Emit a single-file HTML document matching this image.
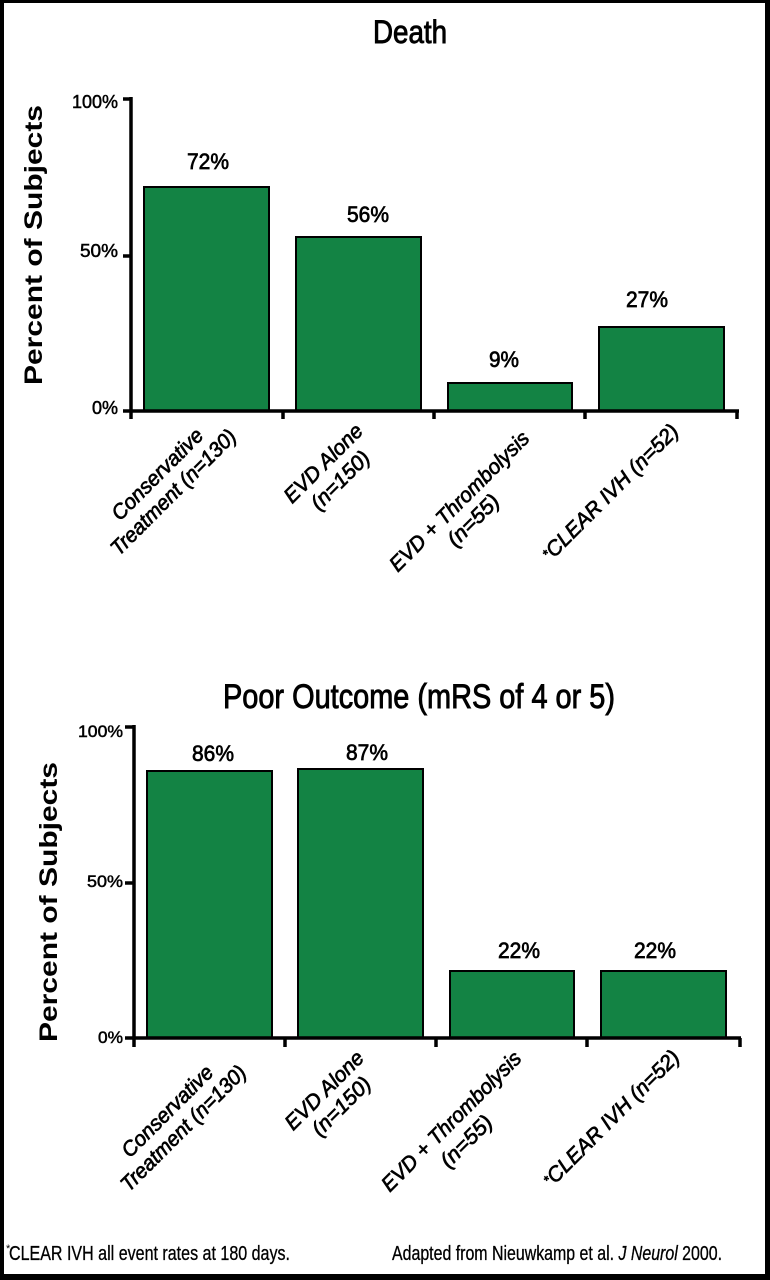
<!DOCTYPE html>
<html>
<head>
<meta charset="utf-8">
<style>
  html, body { margin: 0; padding: 0; background: #fff; }
  svg { display: block; }
  text { font-family: "Liberation Sans", sans-serif; fill: #000; }
</style>
</head>
<body>
<svg width="770" height="1280" viewBox="0 0 770 1280" xmlns="http://www.w3.org/2000/svg">
  <rect x="0" y="0" width="770" height="1280" fill="#fff"/>
  <!-- frame -->
  <rect x="0" y="0" width="770" height="3" fill="#000"/>
  <rect x="0" y="0" width="4" height="1280" fill="#000"/>
  <rect x="765" y="0" width="5" height="1280" fill="#000"/>
  <rect x="0" y="1274" width="770" height="6" fill="#000"/>

  <!-- ================= TOP CHART ================= -->
  <text x="373" y="43" font-size="32" textLength="74" lengthAdjust="spacingAndGlyphs" stroke="#000" stroke-width="0.9">Death</text>

  <!-- y label -->
  <text transform="translate(42,245) rotate(-90)" text-anchor="middle" font-size="25" font-weight="bold" textLength="280" lengthAdjust="spacingAndGlyphs">Percent of Subjects</text>

  <!-- y tick labels -->
  <g stroke="#000" stroke-width="0.5">
  <text x="118" y="108" text-anchor="end" font-size="18" textLength="46" lengthAdjust="spacingAndGlyphs">100%</text>
  <text x="118" y="257" text-anchor="end" font-size="18" textLength="38" lengthAdjust="spacingAndGlyphs">50%</text>
  <text x="118" y="414" text-anchor="end" font-size="18" textLength="26" lengthAdjust="spacingAndGlyphs">0%</text>
  </g>

  <!-- bars -->
  <g fill="#138344" stroke="#000" stroke-width="2">
    <rect x="144" y="187" width="125" height="224"/>
    <rect x="296" y="237" width="125" height="174"/>
    <rect x="448" y="383" width="124" height="28"/>
    <rect x="599" y="327" width="125" height="84"/>
  </g>

  <!-- axes -->
  <g stroke="#000" stroke-width="3.5" fill="none">
    <line x1="131" y1="97" x2="131" y2="419"/>
    <line x1="123" y1="99" x2="131" y2="99"/>
    <line x1="123" y1="256" x2="131" y2="256"/>
    <line x1="123" y1="411" x2="739" y2="411"/>
    <line x1="283" y1="411" x2="283" y2="419"/>
    <line x1="434" y1="411" x2="434" y2="419"/>
    <line x1="585" y1="411" x2="585" y2="419"/>
    <line x1="737" y1="411" x2="737" y2="419"/>
  </g>

  <!-- value labels -->
  <g font-size="22" text-anchor="middle" stroke="#000" stroke-width="0.7">
    <text x="208" y="169" textLength="42" lengthAdjust="spacingAndGlyphs">72%</text>
    <text x="368" y="222" textLength="42" lengthAdjust="spacingAndGlyphs">56%</text>
    <text x="504" y="367" textLength="30" lengthAdjust="spacingAndGlyphs">9%</text>
    <text x="647" y="307" textLength="42" lengthAdjust="spacingAndGlyphs">27%</text>
  </g>

  <!-- category labels -->
  <g font-size="21" font-style="italic" text-anchor="middle" stroke="#000" stroke-width="0.7">
    <text transform="translate(158,475) rotate(-45)" y="6" textLength="120" lengthAdjust="spacingAndGlyphs">Conservative</text>
    <text transform="translate(174,493) rotate(-45)" y="6" textLength="168" lengthAdjust="spacingAndGlyphs">Treatment (n=130)</text>
    <text transform="translate(324,464) rotate(-45)" y="6" textLength="102" lengthAdjust="spacingAndGlyphs">EVD Alone</text>
    <text transform="translate(341,481) rotate(-45)" y="6" textLength="74" lengthAdjust="spacingAndGlyphs">(n=150)</text>
    <text transform="translate(460,502) rotate(-45)" y="6" textLength="188" lengthAdjust="spacingAndGlyphs">EVD + Thrombolysis</text>
    <text transform="translate(474,521) rotate(-45)" y="6" textLength="64" lengthAdjust="spacingAndGlyphs">(n=55)</text>
    <text transform="translate(611,493) rotate(-45)" y="6"><tspan font-size="13" dy="-4">*</tspan><tspan dy="4">CLEAR IVH (n=52)</tspan></text>
  </g>

  <!-- ================= BOTTOM CHART ================= -->
  <text x="223" y="708" font-size="34" textLength="392" lengthAdjust="spacingAndGlyphs" stroke="#000" stroke-width="0.9">Poor Outcome (mRS of 4 or 5)</text>

  <text transform="translate(57,902) rotate(-90)" text-anchor="middle" font-size="25" font-weight="bold" textLength="280" lengthAdjust="spacingAndGlyphs">Percent of Subjects</text>

  <g stroke="#000" stroke-width="0.5">
  <text x="123" y="737" text-anchor="end" font-size="17" textLength="45" lengthAdjust="spacingAndGlyphs">100%</text>
  <text x="123" y="887" text-anchor="end" font-size="17" textLength="36" lengthAdjust="spacingAndGlyphs">50%</text>
  <text x="123" y="1043" text-anchor="end" font-size="17" textLength="25" lengthAdjust="spacingAndGlyphs">0%</text>
  </g>

  <g fill="#138344" stroke="#000" stroke-width="2">
    <rect x="147" y="771" width="125" height="267"/>
    <rect x="298" y="769" width="125" height="269"/>
    <rect x="450" y="971" width="124" height="67"/>
    <rect x="601" y="971" width="125" height="67"/>
  </g>

  <g stroke="#000" stroke-width="3.5" fill="none">
    <line x1="134" y1="725" x2="134" y2="1047"/>
    <line x1="125" y1="727" x2="134" y2="727"/>
    <line x1="125" y1="883" x2="134" y2="883"/>
    <line x1="125" y1="1038" x2="741" y2="1038"/>
    <line x1="285" y1="1038" x2="285" y2="1047"/>
    <line x1="436" y1="1038" x2="436" y2="1047"/>
    <line x1="587" y1="1038" x2="587" y2="1047"/>
    <line x1="740" y1="1038" x2="740" y2="1047"/>
  </g>

  <g font-size="22" text-anchor="middle" stroke="#000" stroke-width="0.7">
    <text x="213" y="761" textLength="42" lengthAdjust="spacingAndGlyphs">86%</text>
    <text x="367" y="760" textLength="42" lengthAdjust="spacingAndGlyphs">87%</text>
    <text x="519" y="958" textLength="42" lengthAdjust="spacingAndGlyphs">22%</text>
    <text x="655" y="958" textLength="42" lengthAdjust="spacingAndGlyphs">22%</text>
  </g>

  <g font-size="21" font-style="italic" text-anchor="middle" stroke="#000" stroke-width="0.7">
    <text transform="translate(168,1112) rotate(-45)" y="6" textLength="120" lengthAdjust="spacingAndGlyphs">Conservative</text>
    <text transform="translate(184,1129) rotate(-45)" y="6" textLength="168" lengthAdjust="spacingAndGlyphs">Treatment (n=130)</text>
    <text transform="translate(325,1091) rotate(-45)" y="6" textLength="102" lengthAdjust="spacingAndGlyphs">EVD Alone</text>
    <text transform="translate(342,1107) rotate(-45)" y="6" textLength="74" lengthAdjust="spacingAndGlyphs">(n=150)</text>
    <text transform="translate(452,1122) rotate(-45)" y="6" textLength="188" lengthAdjust="spacingAndGlyphs">EVD + Thrombolysis</text>
    <text transform="translate(467,1142) rotate(-45)" y="6" textLength="64" lengthAdjust="spacingAndGlyphs">(n=55)</text>
    <text transform="translate(612,1119) rotate(-45)" y="6"><tspan font-size="13" dy="-4">*</tspan><tspan dy="4">CLEAR IVH (n=52)</tspan></text>
  </g>

  <!-- footnotes -->
  <text x="6" y="1252" font-size="11">*</text>
  <text x="9" y="1260" font-size="20" textLength="281" lengthAdjust="spacingAndGlyphs" stroke="#000" stroke-width="0.3">CLEAR IVH all event rates at 180 days.</text>
  <text x="392" y="1260" font-size="20" textLength="330" lengthAdjust="spacingAndGlyphs" stroke="#000" stroke-width="0.3">Adapted from Nieuwkamp et al. <tspan font-style="italic">J Neurol</tspan> 2000.</text>
</svg>
</body>
</html>
